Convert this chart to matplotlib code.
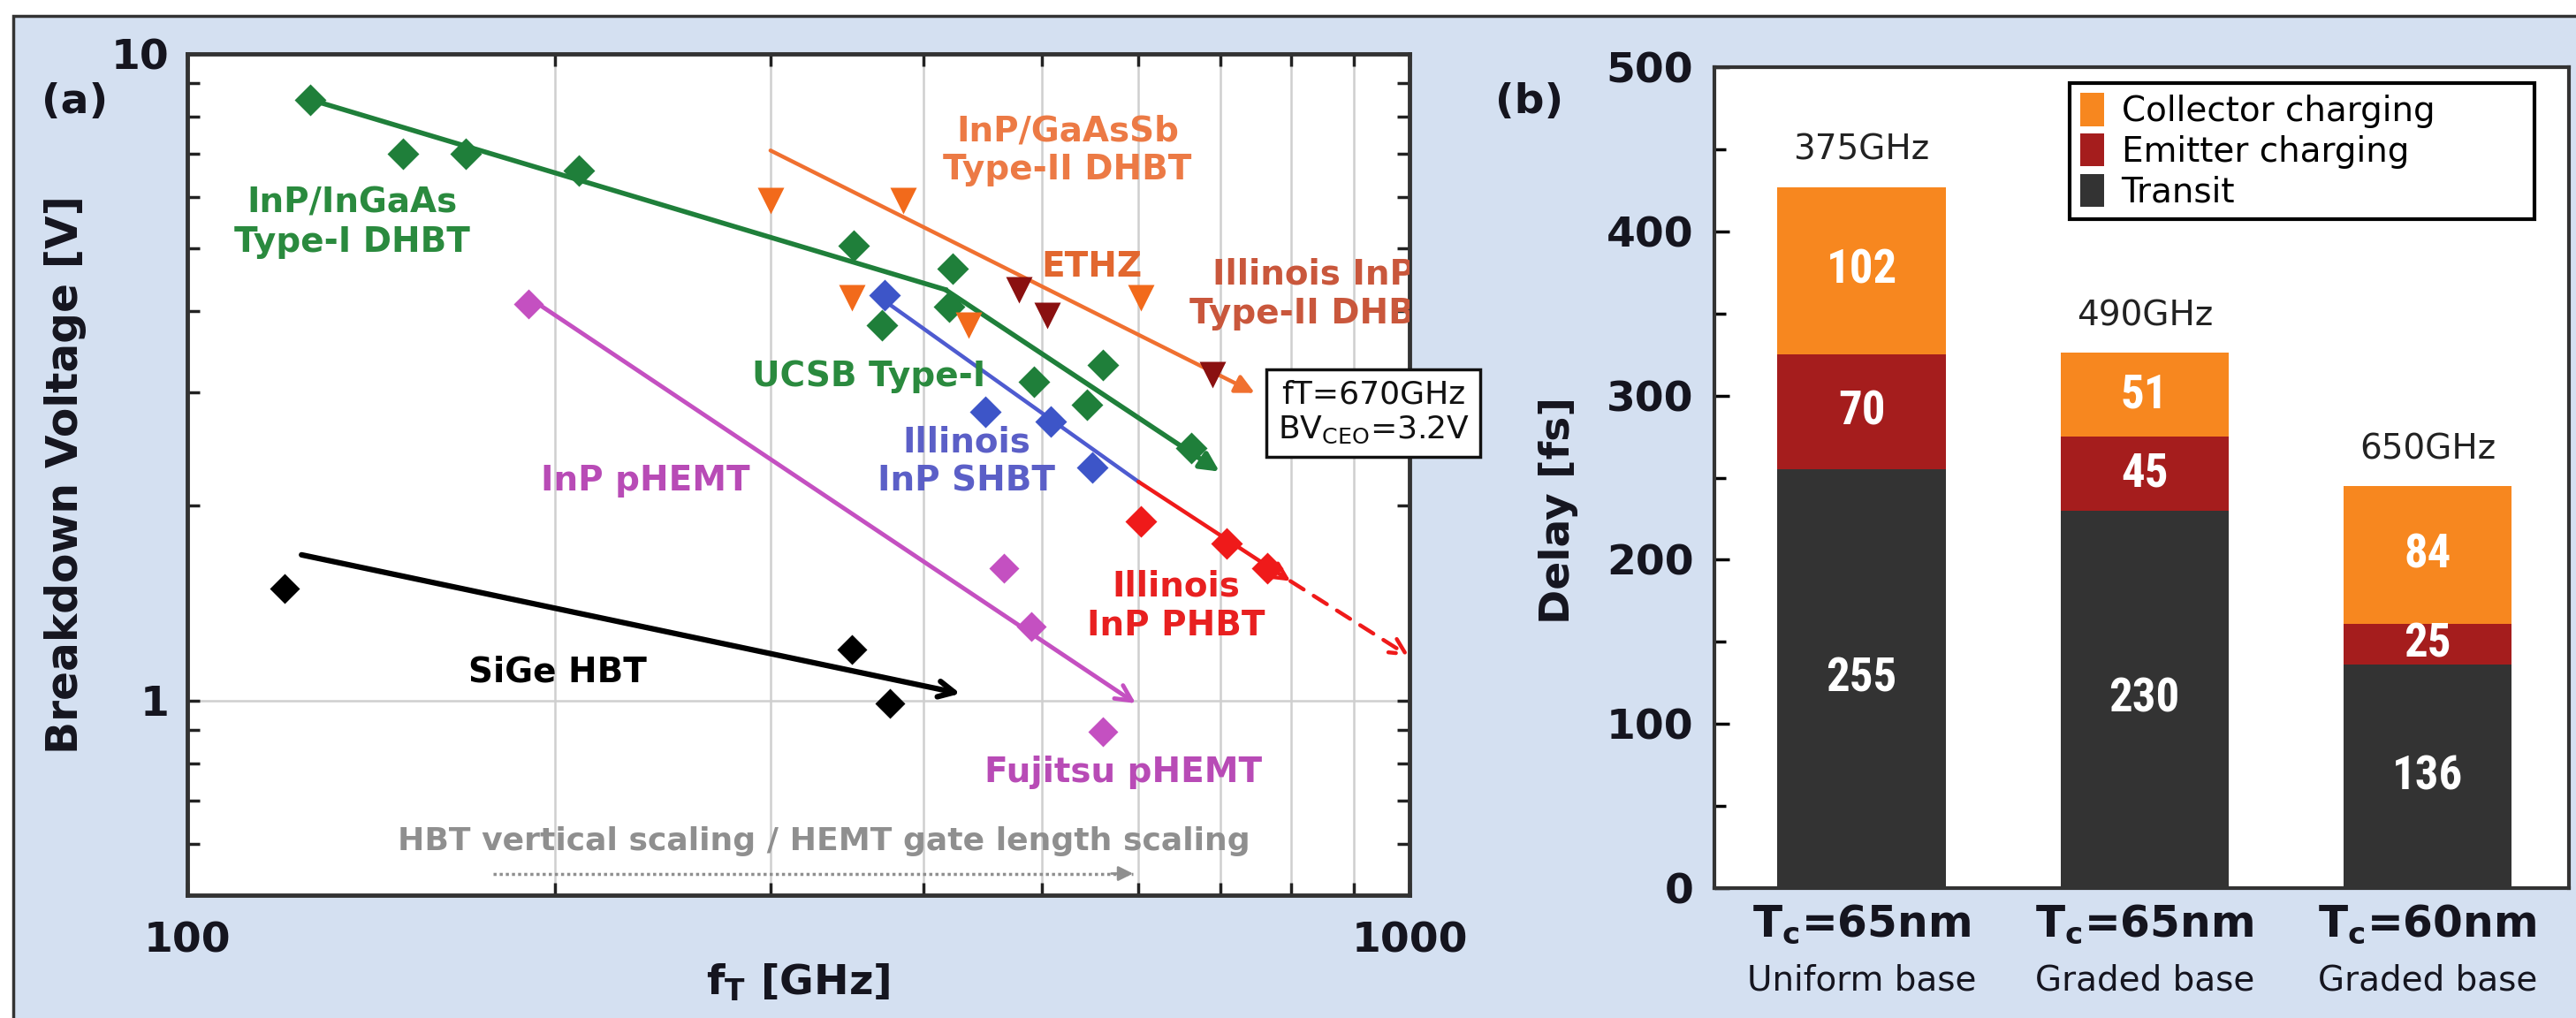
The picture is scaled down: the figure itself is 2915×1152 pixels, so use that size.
import numpy as np
import matplotlib
matplotlib.use("Agg")
import matplotlib.pyplot as plt
from matplotlib import font_manager
from matplotlib.patches import Rectangle, Patch
from matplotlib.ticker import FixedLocator, NullFormatter, FuncFormatter, MultipleLocator

plt.rcParams['font.family'] = ['DejaVu Sans']
plt.rcParams['mathtext.default'] = 'regular'

_names = {f.name for f in font_manager.fontManager.ttflist}
NARROW = next((n for n in ['Liberation Sans Narrow', 'Roboto Condensed'] if n in _names), 'DejaVu Sans')

# ---- (a) fT vs breakdown voltage ----
ingaas_ft = [126, 150, 169, 209, 351, 423, 420, 370, 493, 561, 545, 663]
ingaas_bv = [8.5, 7.0, 7.0, 6.6, 5.05, 4.65, 4.07, 3.81, 3.11, 3.3, 2.87, 2.46]
gaassb_ft = [300, 385, 350, 436, 603]
gaassb_bv = [5.94, 5.94, 4.19, 3.81, 4.19]
ethz_ft = [479, 505, 690]
ethz_bv = [4.32, 3.94, 3.19]
shbt_ft = [372, 450, 509, 550]
shbt_bv = [4.24, 2.80, 2.70, 2.29]
phbt_ft = [603, 709, 765]
phbt_bv = [1.89, 1.75, 1.60]
phemt_ft = [190, 466, 490, 561]
phemt_bv = [4.1, 1.60, 1.30, 0.895]
sige_ft = [120, 350, 376]
sige_bv = [1.49, 1.20, 0.99]

# trend lines (fT list, BV list)
trend_ingaas = ([126, 417, 699], [8.5, 4.32, 2.26])
trend_gaassb = ([300, 747], [7.09, 2.99])
trend_shbt = ([368, 600], [4.21, 2.18])
trend_phbt = ([600, 799], [2.18, 1.53])
trend_phbt_ext = ([799, 1000], [1.53, 1.17])
trend_phemt = ([195, 597], [4.07, 0.99])
trend_sige = ([124, 429], [1.68, 1.025])
scaling_ft = [178, 594]
scaling_bv = [0.54, 0.54]

# ---- (b) delay breakdown ----
structures = ['T$_\\mathbf{c}$=65nm', 'T$_\\mathbf{c}$=65nm', 'T$_\\mathbf{c}$=60nm']
base_type = ['Uniform base', 'Graded base', 'Graded base']
transit = np.array([255, 230, 136])
emitter = np.array([70, 45, 25])
collector = np.array([102, 51, 84])
ft_labels = ['375GHz', '490GHz', '650GHz']

W, H = 2915, 1152
GREEN = '#1f7f3a'
ORANGE = '#f26a1b'
DARKRED = '#8a1010'
BLUE = '#3d55c8'
RED = '#ef1a1a'
MAGENTA = '#c450c1'
GRAY = '#8f8f8f'
TXT = '#15151f'

fig = plt.figure(figsize=(W / 100, H / 100), dpi=100)
fig.patch.set_facecolor('white')
fig.add_artist(Rectangle((15 / W, -0.05), 1.0, 1 - 18 / H + 0.05, transform=fig.transFigure,
                         facecolor='#d4e0f1', edgecolor='#333333', lw=2.5, zorder=-5))

ax = fig.add_axes([212 / W, 1 - 1013 / H, 1383 / W, 952 / H])
ax.set_xscale('log')
ax.set_yscale('log')
ax.set_xlim(100, 1000)
ax.set_ylim(0.5, 10)
ax.xaxis.set_major_locator(FixedLocator([100, 1000]))
ax.xaxis.set_minor_locator(FixedLocator(np.arange(200, 1000, 100)))
ax.yaxis.set_major_locator(FixedLocator([1, 10]))
ax.yaxis.set_minor_locator(FixedLocator(list(np.arange(0.6, 1.0, 0.1)) + list(range(2, 10))))
ax.xaxis.set_major_formatter(FuncFormatter(lambda v, p: f'{v:g}'))
ax.yaxis.set_major_formatter(FuncFormatter(lambda v, p: f'{v:g}'))
ax.xaxis.set_minor_formatter(NullFormatter())
ax.yaxis.set_minor_formatter(NullFormatter())
ax.tick_params(which='both', direction='in', top=True, right=True, length=10, width=2.5, color='#222')
ax.tick_params(axis='both', labelsize=34, labelcolor=TXT)
ax.tick_params(axis='x', pad=21)
ax.tick_params(axis='y', pad=15)
for lab in ax.get_xticklabels() + ax.get_yticklabels():
    lab.set_fontweight('bold')
ax.grid(True, which='minor', axis='x', color='#cfcfcf', lw=1.8)
ax.grid(True, which='major', axis='y', color='#cfcfcf', lw=1.8)
for s in ax.spines.values():
    s.set_linewidth(3.5)
    s.set_color('#333333')

ax.set_ylabel('Breakdown Voltage [V]', fontsize=35, fontweight='bold', color=TXT, va='center')
ax.yaxis.set_label_coords(-0.1, 0.5)
ax.set_xlabel('f$_\\mathbf{T}$ [GHz]', fontsize=34, fontweight='bold', color=TXT, va='center')
ax.xaxis.set_label_coords(0.5, -0.104)


def trend(xs, ys, color, lw, head='->', ls='-'):
    if len(xs) > 2:
        ax.plot(xs[:-1], ys[:-1], color=color, lw=lw, ls=ls, zorder=3)
    ax.annotate('', xy=(xs[-1], ys[-1]), xytext=(xs[-2], ys[-2]),
                arrowprops=dict(arrowstyle=head, color=color, lw=lw, ls=ls,
                                shrinkA=0, shrinkB=0, mutation_scale=32), zorder=3)


trend(*trend_ingaas, GREEN, 4, '-|>')
trend(*trend_gaassb, '#f07030', 3.2, '-|>')
ax.plot(*trend_shbt, color='#4e5bd0', lw=3.2, zorder=3)
trend(*trend_phbt, RED, 3.2, '->')
trend(*trend_phbt_ext, RED, 3.2, '->', ls=(0, (4, 3)))
trend(*trend_phemt, MAGENTA, 3.5, '->')
trend(*trend_sige, 'black', 4.5, '->')
ax.plot(scaling_ft, scaling_bv, color=GRAY, lw=2.5, ls=(0, (1, 1)), zorder=3)
ax.annotate('', xy=(scaling_ft[1], scaling_bv[1]), xytext=(scaling_ft[1] * 0.96, scaling_bv[1]),
            arrowprops=dict(arrowstyle='-|>', color=GRAY, lw=2, shrinkA=0, shrinkB=0, mutation_scale=25))

ax.plot(ingaas_ft, ingaas_bv, 'D', color=GREEN, ms=18, mec='none', zorder=5)
ax.plot(gaassb_ft, gaassb_bv, 'v', color=ORANGE, ms=22, mec='none', zorder=5)
ax.plot(ethz_ft, ethz_bv, 'v', color=DARKRED, ms=22, mec='none', zorder=5)
ax.plot(shbt_ft, shbt_bv, 'D', color=BLUE, ms=18, mec='none', zorder=5)
ax.plot(phbt_ft, phbt_bv, 'D', color=RED, ms=18, mec='none', zorder=5)
ax.plot(phemt_ft, phemt_bv, 'D', color=MAGENTA, ms=17, mec='none', zorder=5)
ax.plot(sige_ft, sige_bv, 'D', color='black', ms=17, mec='none', zorder=5)

lbl = dict(fontsize=28, fontweight='bold', ha='center', va='center', zorder=6)
ax.text(136.5, 5.49, 'InP/InGaAs\nType-I DHBT', color='#2a8a3e', **lbl)
ax.text(525, 7.09, 'InP/GaAsSb\nType-II DHBT', color='#ec7a45', **lbl)
ax.text(550, 4.68, 'ETHZ', color='#e2672f', **lbl)
ax.text(835, 4.25, 'Illinois InP\nType-II DHBT', color='#c9573c', clip_on=True, **lbl)
ax.text(361, 3.17, 'UCSB Type-I', color='#2a8a3e', **lbl)
ax.text(434, 2.34, 'Illinois\nInP SHBT', color='#5b5fc7', **lbl)
ax.text(237, 2.19, 'InP pHEMT', color='#b84bb6', **lbl)
ax.text(644, 1.40, 'Illinois\nInP PHBT', color='#e82020', **lbl)
ax.text(583, 0.774, 'Fujitsu pHEMT', color='#b84bb6', **lbl)
ax.text(201, 1.106, 'SiGe HBT', color='black', **lbl)
ax.text(332, 0.605, 'HBT vertical scaling / HEMT gate length scaling', color=GRAY,
        fontsize=26, fontweight='bold', ha='center', va='center')
ax.text(934, 2.79, 'fT=670GHz\nBV$_{CEO}$=3.2V', fontsize=26, color='#111', ha='center', va='center',
        bbox=dict(boxstyle='square,pad=0.35', fc='white', ec='#111', lw=2.5), clip_on=False, zorder=10)

fig.text(85 / W, 1 - 115 / H, '(a)', fontsize=34, fontweight='bold', color=TXT, ha='center', va='center')
fig.text(1731 / W, 1 - 115 / H, '(b)', fontsize=34, fontweight='bold', color=TXT, ha='center', va='center')

# ---- (b) ----
bx = fig.add_axes([1940 / W, 1 - 1005 / H, 967 / W, 929 / H])
x = np.arange(len(structures))
c_tr, c_em, c_co = '#333333', '#a51d1d', '#f7871f'
b1 = bx.bar(x, transit, width=0.594, color=c_tr)
b2 = bx.bar(x, emitter, width=0.594, bottom=transit, color=c_em)
b3 = bx.bar(x, collector, width=0.594, bottom=transit + emitter, color=c_co)
for b, vals in [(b1, transit), (b2, emitter), (b3, collector)]:
    bx.bar_label(b, labels=[str(v) for v in vals], label_type='center', color='white',
                 fontsize=38 if NARROW != 'DejaVu Sans' else 30, fontweight='bold', family=NARROW)
tot = transit + emitter + collector
for xi, t, f in zip(x, tot, ft_labels):
    bx.annotate(f, (xi, t), xytext=(0, 30), textcoords='offset points', ha='center', va='center',
                fontsize=28, color='#222')

bx.set_xlim(-0.52, 2.50)
bx.set_ylim(0, 500)
bx.yaxis.set_major_locator(MultipleLocator(100))
bx.yaxis.set_minor_locator(MultipleLocator(50))
bx.tick_params(axis='y', which='both', direction='in', length=12, width=2.5, labelsize=34,
               labelcolor=TXT, pad=17)
bx.tick_params(axis='y', which='minor', length=9)
for lab in bx.get_yticklabels():
    lab.set_fontweight('bold')
bx.set_xticks(x)
bx.set_xticklabels(structures, fontsize=35, fontweight='bold', color=TXT)
bx.tick_params(axis='x', length=0, pad=12)
for xi, s in zip(x, base_type):
    bx.text(xi, -0.113, s, transform=bx.get_xaxis_transform(), ha='center', va='center',
            fontsize=28, color=TXT)
for s in bx.spines.values():
    s.set_linewidth(3)
    s.set_color('#333333')
bx.set_ylabel('Delay [fs]', fontsize=34, fontweight='bold', color=TXT, va='center')
bx.yaxis.set_label_coords(-0.183, 0.46)

handles = [Patch(facecolor=c_co), Patch(facecolor=c_em), Patch(facecolor=c_tr)]
leg = bx.legend(handles, ['Collector charging', 'Emitter charging', 'Transit'],
                loc='upper left', bbox_to_anchor=(0.416, 0.798, 0.544, 0.183), mode='expand',
                fontsize=28, fancybox=False, edgecolor='black', framealpha=1,
                handlelength=0.7, handleheight=1.1, handletextpad=0.5, borderpad=0.3,
                labelspacing=0.15, borderaxespad=0)
leg.get_frame().set_linewidth(3)

fig.savefig('out.png', dpi=100)
